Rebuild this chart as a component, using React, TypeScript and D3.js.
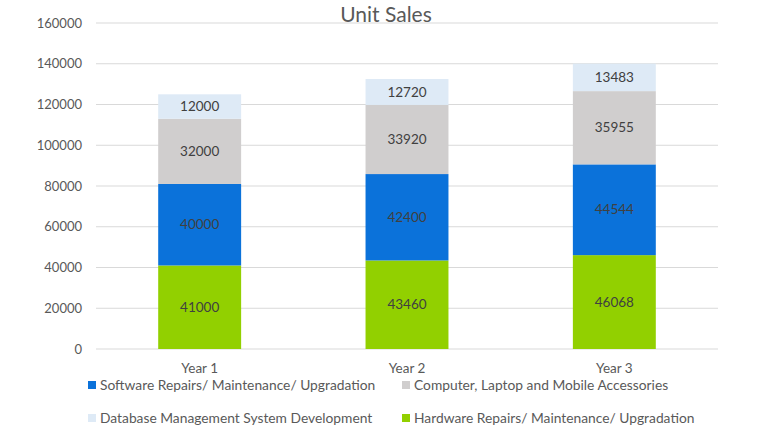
import React from "react";
import * as d3 from "d3";

const categories = ["Year 1", "Year 2", "Year 3"];
const hardware = [41000, 43460, 46068];
const software = [40000, 42400, 44544];
const computer = [32000, 33920, 35955];
const database = [12000, 12720, 13483];
const yTicks = [0, 20000, 40000, 60000, 80000, 100000, 120000, 140000, 160000];

const seriesNames = [
  "Hardware Repairs/ Maintenance/ Upgradation",
  "Software Repairs/ Maintenance/ Upgradation",
  "Computer, Laptop and Mobile Accessories",
  "Database Management System Development",
];
const seriesValues = [hardware, software, computer, database];
const colors = ["#92D000", "#0B72DA", "#D0CECE", "#DEEAF6"];
const legendOrder = [1, 2, 3, 0];

const W = 760;
const H = 440;
const FONT = "Lato, 'Open Sans', sans-serif";

export default function App() {
  const x = d3.scaleBand().domain(categories).range([96, 718]).paddingInner(0.6).paddingOuter(0.3);
  const y = d3.scaleLinear().domain([0, 160000]).range([349, 23]);

  const rows = categories.map((c, i) => {
    const o: any = { cat: c };
    seriesNames.forEach((s, k) => (o[s] = seriesValues[k][i]));
    return o;
  });
  const stacked = d3.stack().keys(seriesNames)(rows);

  const legendPos = [
    { x: 88, y: 385 },
    { x: 402, y: 385 },
    { x: 88, y: 418 },
    { x: 402, y: 418 },
  ];

  return (
    <svg width={W} height={H} style={{ position: "absolute", left: 0, top: 0, background: "#fff" }}>
      <rect x={0} y={0} width={W} height={H} fill="#fff" />
      {yTicks.map((t) => (
        <g key={t}>
          <line x1={96} x2={718} y1={y(t)} y2={y(t)} stroke="#D9D9D9" strokeWidth={1} />
          <text x={82} y={y(t)} dy="0.35em" textAnchor="end" fontFamily={FONT} fontSize={13} fill="#595959">
            {t}
          </text>
        </g>
      ))}
      <text x={386} y={22} textAnchor="middle" fontFamily={FONT} fontSize={21} fill="#595959">
        Unit Sales
      </text>
      {stacked.map((layer, k) =>
        layer.map((d, i) => {
          const x0 = x(categories[i])!;
          const y0 = y(d[1]);
          const h = y(d[0]) - y(d[1]);
          return (
            <g key={`${k}-${i}`}>
              <rect x={x0} y={y0} width={x.bandwidth()} height={h} fill={colors[k]} />
              <text
                x={x0 + x.bandwidth() / 2}
                y={y0 + h / 2}
                dy="0.35em"
                textAnchor="middle"
                fontFamily={FONT}
                fontSize={13.5}
                fill="#404040"
              >
                {seriesValues[k][i]}
              </text>
            </g>
          );
        })
      )}
      {categories.map((c) => (
        <text
          key={c}
          x={x(c)! + x.bandwidth() / 2}
          y={368}
          dy="0.35em"
          textAnchor="middle"
          fontFamily={FONT}
          fontSize={13.5}
          fill="#595959"
        >
          {c}
        </text>
      ))}
      {legendOrder.map((k, j) => (
        <g key={k}>
          <rect x={legendPos[j].x} y={legendPos[j].y - 4} width={8} height={8} fill={colors[k]} />
          <text
            x={legendPos[j].x + 12}
            y={legendPos[j].y}
            dy="0.35em"
            fontFamily={FONT}
            fontSize={13.8}
            fill="#595959"
          >
            {seriesNames[k]}
          </text>
        </g>
      ))}
    </svg>
  );
}
